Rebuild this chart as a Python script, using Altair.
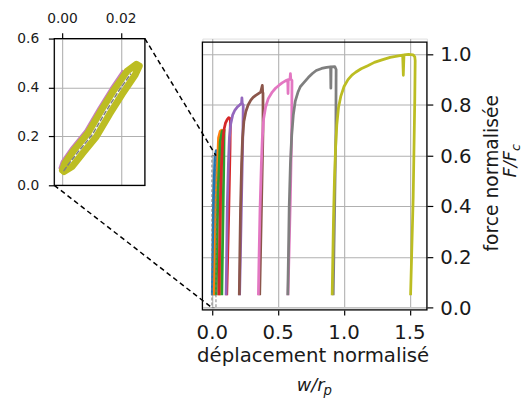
import altair as alt
import pandas as pd

# ---------------- data ----------------
series = ["s1", "s2", "s3", "s4", "s5", "s6", "s7", "s8", "s9"]
colors = ["#1f77b4", "#ff7f0e", "#2ca02c", "#d62728", "#9467bd",
          "#8c564b", "#e377c2", "#7f7f7f", "#bcbd22"]

xs = {
    "s1": [0.000, 0.010, 0.020, 0.030, 0.028, 0.025, 0.0175],
    "s2": [0.015, 0.030, 0.0475, 0.060, 0.070, 0.065, 0.055],
    "s3": [0.030, 0.0425, 0.060, 0.075, 0.090, 0.0875, 0.0725],
    "s4": [0.050, 0.056, 0.0625, 0.070, 0.080, 0.090, 0.100, 0.113, 0.125, 0.1375,
           0.135, 0.125, 0.110],
    "s5": [0.105, 0.109, 0.114, 0.1225, 0.130, 0.140, 0.155, 0.172, 0.1925, 0.210,
           0.2225, 0.225, 0.2275, 0.235, 0.2325, 0.2225, 0.2075],
    "s6": [0.205, 0.209, 0.214, 0.2225, 0.230, 0.240, 0.255, 0.272, 0.2925, 0.310,
           0.330, 0.350, 0.3675, 0.380, 0.3825, 0.385, 0.385, 0.375, 0.360],
    "s7": [0.350, 0.355, 0.362, 0.3725, 0.380, 0.390, 0.405, 0.425, 0.455, 0.480,
           0.505, 0.530, 0.555, 0.573, 0.575, 0.577, 0.590, 0.593, 0.596, 0.605,
           0.6025, 0.593, 0.575],
    "s8": [0.573, 0.578, 0.584, 0.593, 0.603, 0.615, 0.630, 0.650, 0.668, 0.690,
           0.730, 0.760, 0.789, 0.830, 0.868, 0.898, 0.900, 0.902, 0.930, 0.940,
           0.938, 0.930, 0.918],
    "s9": [0.910, 0.915, 0.920, 0.927, 0.935, 0.945, 0.958, 0.976, 1.000, 1.030,
           1.060, 1.088, 1.130, 1.180, 1.230, 1.288, 1.350, 1.413, 1.445, 1.450,
           1.455, 1.490, 1.525, 1.537, 1.540, 1.537, 1.525, 1.505],
}
ys = {
    "s1": [0.049, 0.437, 0.590, 0.620, 0.550, 0.310, 0.049],
    "s2": [0.049, 0.437, 0.670, 0.696, 0.700, 0.500, 0.049],
    "s3": [0.049, 0.437, 0.657, 0.696, 0.702, 0.567, 0.049],
    "s4": [0.049, 0.250, 0.437, 0.560, 0.660, 0.705, 0.728, 0.742, 0.750, 0.745,
           0.631, 0.373, 0.049],
    "s5": [0.049, 0.200, 0.400, 0.567, 0.670, 0.725, 0.761, 0.780, 0.793, 0.801,
           0.806, 0.828, 0.806, 0.800, 0.696, 0.437, 0.049],
    "s6": [0.049, 0.200, 0.380, 0.567, 0.670, 0.735, 0.774, 0.800, 0.819, 0.830,
           0.838, 0.845, 0.851, 0.877, 0.851, 0.847, 0.696, 0.437, 0.049],
    "s7": [0.049, 0.200, 0.380, 0.567, 0.670, 0.745, 0.792, 0.825, 0.851, 0.866,
           0.877, 0.887, 0.895, 0.899, 0.845, 0.900, 0.902, 0.924, 0.902, 0.897,
           0.696, 0.437, 0.049],
    "s8": [0.049, 0.200, 0.400, 0.567, 0.680, 0.760, 0.815, 0.850, 0.872, 0.885,
           0.909, 0.924, 0.936, 0.944, 0.948, 0.950, 0.866, 0.950, 0.951, 0.940,
           0.696, 0.437, 0.049],
    "s9": [0.049, 0.200, 0.350, 0.500, 0.620, 0.720, 0.790, 0.835, 0.873, 0.900,
           0.918, 0.929, 0.943, 0.955, 0.968, 0.978, 0.988, 0.994, 0.997, 0.917,
           0.998, 1.000, 0.998, 0.990, 0.975, 0.825, 0.437, 0.049],
}

# inset (zoom on the start of the loading)
inset_olive_x = [0.0000, 0.0008, 0.0040, 0.0087, 0.0133, 0.0175, 0.0220, 0.0252,
                 0.0262, 0.0248, 0.0203, 0.0161, 0.0115, 0.0068, 0.0034, 0.0005, 0.0000]
inset_olive_y = [0.062, 0.090, 0.145, 0.214, 0.308, 0.389, 0.466, 0.495,
                 0.488, 0.452, 0.372, 0.292, 0.198, 0.130, 0.078, 0.056, 0.062]
inset_pink_x = [-0.0010, -0.0002, 0.0030, 0.0077, 0.0123, 0.0165, 0.0205]
inset_pink_y = [0.070, 0.098, 0.153, 0.222, 0.316, 0.397, 0.468]
inset_gray_x = [0.0005, 0.0020, 0.0054, 0.0101, 0.0147, 0.0189, 0.0232]
inset_gray_y = [0.060, 0.085, 0.138, 0.206, 0.300, 0.381, 0.455]

main_xticks = [0.0, 0.5, 1.0, 1.5]
main_xlabels = ["0.0", "0.5", "1.0", "1.5"]
main_yticks = [0.0, 0.2, 0.4, 0.6, 0.8, 1.0]
main_ylabels = ["0.0", "0.2", "0.4", "0.6", "0.8", "1.0"]
inset_xticks = [0.0, 0.02]
inset_xlabels = ["0.00", "0.02"]
inset_yticks = [0.0, 0.2, 0.4, 0.6]
inset_ylabels = ["0.0", "0.2", "0.4", "0.6"]

X_DOM = [-0.075, 1.629]
Y_DOM = [-0.009, 1.048]
IX_DOM = [-0.0028, 0.0281]
IY_DOM = [0.0, 0.6]

# ---------------- layout ----------------
MAIN_W = 228
MAIN_PLOT_H = 272
MAIN_TOP = 3.6            # main frame sits a bit lower than the inset frame
MAIN_H = MAIN_PLOT_H + MAIN_TOP
INSET_W, INSET_H = 92, 149
GAP = 58.4
FONT = "DejaVu Sans"
INK = "#1a1a1a"
MAIN_LAB = 20
INSET_LAB = 14

px_x = MAIN_W / (X_DOM[1] - X_DOM[0])
px_y = MAIN_PLOT_H / (Y_DOM[1] - Y_DOM[0])
y_top_data = Y_DOM[1] + MAIN_TOP / px_y

# connector lines: inset corner (in main data space) -> zoom box corner
conn = pd.DataFrame({
    "seg": ["a", "a", "b", "b"],
    "o": [0, 1, 0, 1],
    "x": [X_DOM[0] - GAP / px_x, IX_DOM[1],
          X_DOM[0] - (GAP + INSET_W) / px_x, IX_DOM[0]],
    "y": [y_top_data, IY_DOM[1], y_top_data - INSET_H / px_y, IY_DOM[0]],
})

rows = []
for s in series:
    for i, (a, b) in enumerate(zip(xs[s], ys[s])):
        rows.append({"series": s, "o": i, "x": a, "y": b})
df = pd.DataFrame(rows)

xsc = alt.Scale(domain=X_DOM, nice=False, zero=False)
ysc = alt.Scale(domain=Y_DOM, nice=False, zero=False, range=[MAIN_H, MAIN_TOP])

xaxis = alt.Axis(values=main_xticks, labels=False, title=None, domain=False,
                 tickSize=5, tickWidth=1.2, tickColor="black",
                 gridColor="#b0b0b0", gridWidth=1.1)
yaxis = alt.Axis(values=main_yticks, labels=False, title=None, domain=False,
                 orient="right", tickSize=6, tickWidth=1.2, tickColor="black",
                 gridColor="#b0b0b0", gridWidth=1.1)


def mx(field="x"):
    return alt.X(f"{field}:Q", scale=xsc, axis=xaxis)


def my(field="y"):
    return alt.Y(f"{field}:Q", scale=ysc, axis=yaxis)


curves = alt.Chart(df).mark_line(strokeWidth=2.8, strokeJoin="round").encode(
    x=mx(), y=my(),
    color=alt.Color("series:N", scale=alt.Scale(domain=series, range=colors), legend=None),
    order="o:Q",
)

box = alt.Chart(pd.DataFrame({"x": [IX_DOM[0]], "x2": [IX_DOM[1]],
                              "y": [IY_DOM[0]], "y2": [IY_DOM[1]]})).mark_rect(
    fillOpacity=0, stroke="#808080", strokeWidth=1, strokeDash=[3, 2]
).encode(x=mx(), x2="x2", y=my(), y2="y2")

connectors = alt.Chart(conn).mark_line(color="black", strokeWidth=1.5,
                                       strokeDash=[5, 3.5], clip=False).encode(
    x=mx(), y=my(), detail="seg:N", order="o:Q")

frame = alt.Chart(pd.DataFrame({"x": [X_DOM[0]], "x2": [X_DOM[1]],
                                "y": [Y_DOM[0]], "y2": [Y_DOM[1]]})).mark_rect(
    fillOpacity=0, stroke="black", strokeWidth=1.3
).encode(x=mx(), x2="x2", y=my(), y2="y2")

# tick labels placed through the scales
main_xlab = alt.Chart(pd.DataFrame({"v": main_xticks, "t": main_xlabels})).mark_text(
    fontSize=MAIN_LAB, font=FONT, color=INK, align="center", baseline="alphabetic"
).encode(x=mx("v"), y=alt.value(305.5), text="t:N")
main_ylab = alt.Chart(pd.DataFrame({"v": main_yticks, "t": main_ylabels})).mark_text(
    fontSize=MAIN_LAB, font=FONT, color=INK, align="left", baseline="middle", dy=1
).encode(y=my("v"), x=alt.value(241.5), text="t:N")


def label(txt, x, y, size=18, angle=0, italic=False, align="center"):
    kw = dict(fontSize=size, font=FONT, color=INK, align=align,
              baseline="alphabetic", angle=angle)
    if italic:
        kw["fontStyle"] = "italic"
    return alt.Chart(pd.DataFrame({"t": [txt]})).mark_text(**kw).encode(
        text="t:N", x=alt.value(x), y=alt.value(y))


texts = [
    label("déplacement normalisé", 112.5, 328.3, size=20),
    label("w/r", 110.0, 357.6, size=18, italic=True),
    label("p", 127.3, 361.6, size=13.5, italic=True),
    label("force normalisée", 300.3, 136.8, size=19, angle=270),
    label("F/F", 318.3, 127.6, angle=270, italic=True),
    label("c", 322.3, 110.7, size=13, angle=270, italic=True),
]

main = alt.layer(curves, box, connectors, frame, main_xlab, main_ylab, *texts).properties(
    width=MAIN_W, height=MAIN_H)

# ---------------- inset ----------------
ixs = alt.Scale(domain=IX_DOM, nice=False, zero=False)
iys = alt.Scale(domain=IY_DOM, nice=False, zero=False)
ixaxis = alt.Axis(values=inset_xticks, labels=False, title=None, domain=False,
                  orient="top", tickSize=6, tickWidth=1.2, tickColor="black",
                  gridColor="#b0b0b0", gridWidth=1.1)
iyaxis = alt.Axis(values=inset_yticks, labels=False, title=None, domain=False,
                  tickSize=6, tickWidth=1.2, tickColor="black",
                  gridColor="#b0b0b0", gridWidth=1.1)


def ix(field="x"):
    return alt.X(f"{field}:Q", scale=ixs, axis=ixaxis)


def iy(field="y"):
    return alt.Y(f"{field}:Q", scale=iys, axis=iyaxis)


def inset_line(xv, yv, color, width, dash=None):
    d = pd.DataFrame({"x": xv, "y": yv, "o": list(range(len(xv)))})
    kw = dict(color=color, strokeWidth=width, strokeJoin="round", strokeCap="round")
    if dash:
        kw["strokeDash"] = dash
    return alt.Chart(d).mark_line(**kw).encode(x=ix(), y=iy(), order="o:Q")


iframe = alt.Chart(pd.DataFrame({"x": [IX_DOM[0]], "x2": [IX_DOM[1]],
                                 "y": [IY_DOM[0]], "y2": [IY_DOM[1]]})).mark_rect(
    fillOpacity=0, stroke="black", strokeWidth=1.3
).encode(x=ix(), x2="x2", y=iy(), y2="y2")

inset_xlab = alt.Chart(pd.DataFrame({"v": inset_xticks, "t": inset_xlabels})).mark_text(
    fontSize=INSET_LAB, font=FONT, color=INK, align="center", baseline="alphabetic"
).encode(x=ix("v"), y=alt.value(-16.2), text="t:N")
inset_ylab = alt.Chart(pd.DataFrame({"v": inset_yticks, "t": inset_ylabels})).mark_text(
    fontSize=INSET_LAB, font=FONT, color=INK, align="right", baseline="middle", dy=1
).encode(y=iy("v"), x=alt.value(-15.3), text="t:N")

inset = alt.layer(
    inset_line(inset_pink_x, inset_pink_y, "#c77dbf", 2.2),
    inset_line(inset_olive_x, inset_olive_y, "#bcbd22", 7),
    inset_line(inset_gray_x, inset_gray_y, "#7f7f7f", 1.5, dash=[4, 3]),
    iframe, inset_xlab, inset_ylab,
).properties(width=INSET_W, height=INSET_H)

chart = alt.hconcat(inset, main, spacing=GAP, bounds="flush").properties(
    padding={"left": 8, "top": 0, "right": 0, "bottom": 0}
).configure_view(stroke=None).configure(font=FONT)

chart.save("out.html", embed_options={"renderer": "svg", "actions": False})
